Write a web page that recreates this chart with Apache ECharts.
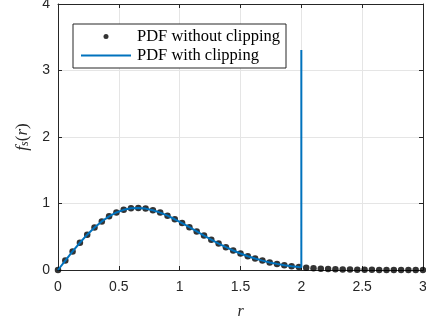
<!DOCTYPE html>
<html><head><meta charset="utf-8">
<script src="https://cdn.jsdelivr.net/npm/echarts@6/dist/echarts.min.js"></script>
<style>html,body{margin:0;padding:0;background:#fff}#c{width:426px;height:326px}</style>
</head><body><div id="c"></div>
<script>
// PDF without clipping (dots)
const rDots = [0,0.06,0.12,0.18,0.24,0.30,0.36,0.42,0.48,0.54,0.60,0.66,0.72,0.78,0.84,0.90,0.96,1.02,1.08,1.14,1.20,1.26,1.32,1.38,1.44,1.50,1.56,1.62,1.68,1.74,1.80,1.86,1.92,1.98,2.04,2.10,2.16,2.22,2.28,2.34,2.40,2.46,2.52,2.58,2.64,2.70,2.76,2.82,2.88,2.94,3.00];
const fDots = [0,0.141,0.279,0.410,0.531,0.638,0.731,0.807,0.865,0.905,0.927,0.933,0.923,0.899,0.863,0.817,0.763,0.705,0.643,0.580,0.517,0.456,0.397,0.343,0.293,0.248,0.207,0.172,0.141,0.114,0.092,0.073,0.058,0.045,0.035,0.027,0.020,0.015,0.011,0.008,0.006,0.004,0.003,0.002,0.0015,0.001,0.0007,0.0004,0.0003,0.0002,0.0001];
// PDF with clipping (line), spike at r = 2
const rClip = [0,0.06,0.12,0.18,0.24,0.30,0.36,0.42,0.48,0.54,0.60,0.66,0.72,0.78,0.84,0.90,0.96,1.02,1.08,1.14,1.20,1.26,1.32,1.38,1.44,1.50,1.56,1.62,1.68,1.74,1.80,1.86,1.92,1.98,2.00,2.00];
const fClip = [0,0.141,0.279,0.410,0.531,0.638,0.731,0.807,0.865,0.905,0.927,0.933,0.923,0.899,0.863,0.817,0.763,0.705,0.643,0.580,0.517,0.456,0.397,0.343,0.293,0.248,0.207,0.172,0.141,0.114,0.092,0.073,0.058,0.045,0.042,3.31];
const xTicks = {min:0, max:3, interval:0.5};
const yTicks = {min:0, max:4, interval:1};
const legendNames = ['PDF without clipping','PDF with clipping'];

const chart = echarts.init(document.getElementById('c'), null, {renderer:'canvas'});
const axisColor = '#262626';
const tickFont = {fontFamily:'Liberation Sans', fontSize:14, color:axisColor};
const lineIcon = 'path://M0,0L0.01,0L0,0.01Z M0,5L0.01,5L0,4.99Z M0,1.5L50,1.5L50,3.5L0,3.5Z';
chart.setOption({
  animation:false,
  grid:{left:58, right:3, top:4, bottom:56, containLabel:false, outerBoundsMode:'none'},
  legend:{
    data:[{name:legendNames[0], icon:'circle', itemStyle:{color:'#000'}},
          {name:legendNames[1], icon:lineIcon, itemStyle:{color:'#0072BD'}}],
    orient:'vertical', left:73, top:24, itemWidth:50, itemHeight:5, itemGap:2,
    padding:[4,6,4,8], borderColor:'#262626', borderWidth:1, backgroundColor:'#fff', borderRadius:0,
    textStyle:{fontFamily:'Liberation Serif', fontSize:16.5, lineHeight:16, color:'#000', padding:[0,0,0,1]}
  },
  xAxis:[
    {type:'value', min:xTicks.min, max:xTicks.max, interval:xTicks.interval, position:'bottom',
     name:'r', nameLocation:'middle', nameGap:34,
     nameTextStyle:{fontFamily:'Liberation Serif', fontStyle:'italic', fontSize:16, color:axisColor},
     axisLine:{show:true, lineStyle:{color:axisColor, width:1}},
     axisTick:{show:true, inside:true, length:4, lineStyle:{color:axisColor}},
     axisLabel:Object.assign({margin:10}, tickFont),
     splitLine:{show:true, lineStyle:{color:'#e5e5e5', width:1}}},
    {type:'value', min:xTicks.min, max:xTicks.max, interval:xTicks.interval, position:'top',
     axisLine:{show:true, onZero:false, lineStyle:{color:axisColor, width:1}},
     axisTick:{show:true, inside:true, length:4, lineStyle:{color:axisColor}},
     axisLabel:{show:false}, splitLine:{show:false}}
  ],
  yAxis:[
    {type:'value', min:yTicks.min, max:yTicks.max, interval:yTicks.interval, position:'left',
     name:'{i|f}{s|s}{n|(}{i|r}{n|)}', nameLocation:'middle', nameGap:26, nameRotate:90,
     nameTextStyle:{rich:{
       i:{fontFamily:'Liberation Serif', fontStyle:'italic', fontSize:17, color:axisColor},
       s:{fontFamily:'Liberation Serif', fontStyle:'italic', fontSize:12, color:axisColor, verticalAlign:'bottom', padding:[6,0,0,0]},
       n:{fontFamily:'Liberation Serif', fontSize:17, color:axisColor}}},
     axisLine:{show:true, lineStyle:{color:axisColor, width:1}},
     axisTick:{show:true, inside:true, length:4, lineStyle:{color:axisColor}},
     axisLabel:Object.assign({margin:8}, tickFont),
     splitLine:{show:true, lineStyle:{color:'#e5e5e5', width:1}}},
    {type:'value', min:yTicks.min, max:yTicks.max, interval:yTicks.interval, position:'right',
     axisLine:{show:true, onZero:false, lineStyle:{color:axisColor, width:1}},
     axisTick:{show:true, inside:true, length:4, lineStyle:{color:axisColor}},
     axisLabel:{show:false}, splitLine:{show:false}}
  ],
  series:[
    {name:legendNames[0], type:'scatter', symbol:'circle', symbolSize:6.5, xAxisIndex:0, yAxisIndex:0,
     itemStyle:{color:'#000'}, z:2,
     data:rDots.map((r,i)=>[r,fDots[i]])},
    {name:legendNames[1], type:'line', showSymbol:false, symbol:'none', xAxisIndex:0, yAxisIndex:0,
     lineStyle:{color:'#0072BD', width:2}, itemStyle:{color:'#0072BD'}, z:3, clip:false,
     data:rClip.map((r,i)=>[r,fClip[i]])}
  ]
});
</script></body></html>
